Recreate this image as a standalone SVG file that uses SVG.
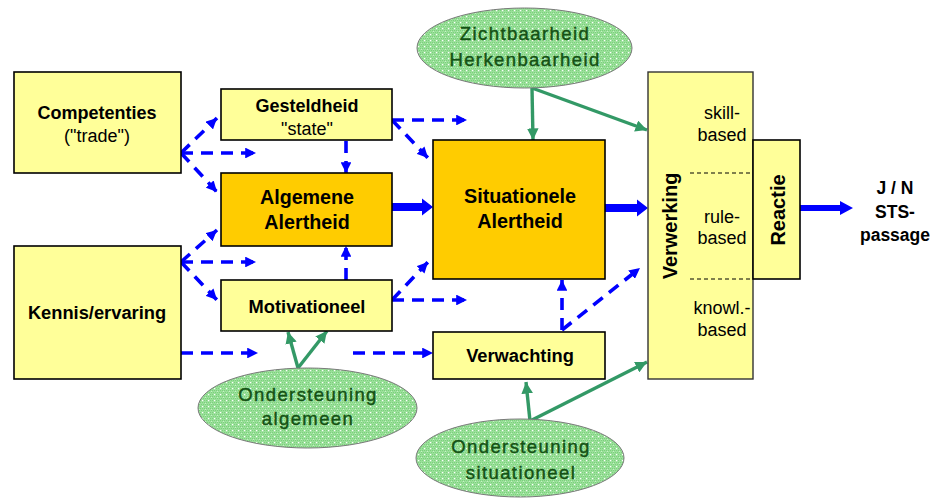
<svg xmlns="http://www.w3.org/2000/svg" width="933" height="499" viewBox="0 0 933 499">
<defs>
<pattern id="dots" width="6" height="6" patternUnits="userSpaceOnUse">
<rect width="6" height="6" fill="#9ae09a"/>
<rect x="0" y="0" width="1" height="1" fill="#7cd07c"/><rect x="2" y="0" width="1" height="1" fill="#7cd07c"/><rect x="4" y="0" width="1" height="1" fill="#7cd07c"/>
<rect x="1" y="2" width="1" height="1" fill="#7cd07c"/><rect x="3" y="2" width="1" height="1" fill="#7cd07c"/><rect x="5" y="2" width="1" height="1" fill="#7cd07c"/>
<rect x="0" y="4" width="1" height="1" fill="#7cd07c"/><rect x="2" y="4" width="1" height="1" fill="#7cd07c"/>
<rect x="4" y="4" width="1.2" height="1.2" fill="#ffffff"/>
<rect x="1" y="1" width="1" height="1" fill="#c8f2c8"/>
</pattern>
<marker id="bh" viewBox="0 0 10 10" refX="10" refY="5" markerWidth="3" markerHeight="3" orient="auto" markerUnits="strokeWidth">
<path d="M0,0 L10,5 L0,10 z" fill="#0000ff"/>
</marker>
<marker id="gh" viewBox="0 0 10 10" refX="10" refY="5" markerWidth="3.4" markerHeight="3.4" orient="auto" markerUnits="strokeWidth">
<path d="M0,0 L10,5 L0,10 z" fill="#339966"/>
</marker>
</defs>
<style>
.box{fill:#ffff99;stroke:#000;stroke-width:1.6}
.obox{fill:#ffcc00;stroke:#000;stroke-width:1.6}
.ell{fill:url(#dots);stroke:#7a7a7a;stroke-width:1}
.t{font-family:"Liberation Sans",Arial,sans-serif;fill:#000;text-anchor:middle}
.b{font-weight:bold}
.et{font-family:"Liberation Sans",Arial,sans-serif;fill:#145214;stroke:#145214;stroke-width:0.45;text-anchor:middle;font-size:18.5px;letter-spacing:1.4px}
.dash{fill:none;stroke:#0000ff;stroke-width:3.6;stroke-dasharray:12 8;marker-end:url(#bh)}
.grn{fill:none;stroke:#339966;stroke-width:3.4;marker-end:url(#gh)}
.thick{fill:#0000ff}
.sep{stroke:#000;stroke-width:1;stroke-dasharray:4 3}
</style>
<rect width="933" height="499" fill="#ffffff"/>

<g id="connectors">
<path class="dash" d="M181,153 L217,118"/>
<path class="dash" d="M181,153 L256,153"/>
<path class="dash" d="M181,153 L217,192"/>
<path class="dash" d="M181,262 L217,230"/>
<path class="dash" d="M181,262 L256,262"/>
<path class="dash" d="M181,262 L217,300"/>
<path class="dash" d="M181,353 L258,353"/>
<path class="dash" d="M353,353 L433,353"/>
<path class="dash" d="M346,141 L346,173"/>
<path class="dash" d="M346,280 L346,246"/>
<path class="dash" d="M392,120 L467,120"/>
<path class="dash" d="M392,120 L428,158"/>
<path class="dash" d="M392,300 L467,300"/>
<path class="dash" d="M392,300 L428,262"/>
<path class="dash" d="M562,330 L562,280"/>
<path class="dash" d="M562,330 L640,268"/>
<polygon class="thick" points="392,203 422,203 422,198.5 433,207 422,215.5 422,211 392,211"/>
<polygon class="thick" points="605,204 637,204 637,199.5 648,208 637,216.5 637,212 605,212"/>
<polygon class="thick" points="800,205 840,205 840,201 853,208 840,215 840,211 800,211"/>
<path class="grn" d="M532,88 L533,140"/>
<path class="grn" d="M532,88 L647,130"/>
<path class="grn" d="M298,368 L288,332"/>
<path class="grn" d="M298,368 L327,331"/>
<path class="grn" d="M530,421 L526,382"/>
<path class="grn" d="M530,421 L647,362"/>
</g>

<g id="competenties">
<rect class="box" x="14" y="72" width="167" height="101"/>
<text class="t b" x="97" y="119" font-size="18">Competenties</text>
<text class="t" x="97" y="142" font-size="18">("trade")</text>
</g>

<g id="kennis">
<rect class="box" x="14" y="246" width="167" height="133"/>
<text class="t b" x="97" y="319" font-size="18.3">Kennis/ervaring</text>
</g>

<g id="gesteldheid">
<rect class="box" x="221" y="89" width="171" height="51"/>
<text class="t b" x="307" y="112" font-size="18">Gesteldheid</text>
<text class="t" x="307" y="135" font-size="18">"state"</text>
</g>

<g id="algemene">
<rect class="obox" x="221" y="173" width="171" height="73"/>
<text class="t b" x="307" y="204" font-size="19.7">Algemene</text>
<text class="t b" x="307" y="229" font-size="19.7">Alertheid</text>
</g>

<g id="motivationeel">
<rect class="box" x="221" y="280" width="171" height="51"/>
<text class="t b" x="307" y="313" font-size="18.3">Motivationeel</text>
</g>

<g id="situationele">
<rect class="obox" x="433" y="140" width="172" height="139"/>
<text class="t b" x="520" y="203" font-size="19.8">Situationele</text>
<text class="t b" x="520" y="228" font-size="19.8">Alertheid</text>
</g>

<g id="verwachting">
<rect class="box" x="433" y="332" width="172" height="47"/>
<text class="t b" x="520" y="362" font-size="18.3">Verwachting</text>
</g>

<g id="verwerking">
<rect class="box" x="648" y="72" width="105" height="307" style="stroke:#333;stroke-width:1.4"/>
<line class="sep" x1="690" y1="173" x2="753" y2="173"/>
<line class="sep" x1="690" y1="279" x2="753" y2="279"/>
<text class="t b" transform="translate(677,226) rotate(-90)" font-size="20">Verwerking</text>
<text class="t" x="722" y="119" font-size="18">skill-</text>
<text class="t" x="722" y="141" font-size="18">based</text>
<text class="t" x="722" y="223" font-size="18">rule-</text>
<text class="t" x="722" y="244" font-size="18">based</text>
<text class="t" x="722" y="314" font-size="18">knowl.-</text>
<text class="t" x="722" y="336" font-size="18">based</text>
</g>

<g id="reactie">
<rect class="box" x="753" y="140" width="47" height="139"/>
<text class="t b" transform="translate(785,210) rotate(-90)" font-size="20">Reactie</text>
</g>

<g id="uitkomst">
<text class="t b" x="895" y="194" font-size="17.5">J / N</text>
<text class="t b" x="895" y="218" font-size="17.5">STS-</text>
<text class="t b" x="895" y="241" font-size="17.5">passage</text>
</g>

<g id="zichtbaarheid">
<ellipse class="ell" cx="524.5" cy="48" rx="107.5" ry="40"/>
<text class="et" x="525" y="40">Zichtbaarheid</text>
<text class="et" x="525" y="66">Herkenbaarheid</text>
</g>

<g id="ondersteuning-algemeen">
<ellipse class="ell" cx="307.5" cy="408" rx="109.5" ry="40"/>
<text class="et" x="308" y="401">Ondersteuning</text>
<text class="et" x="308" y="425">algemeen</text>
</g>

<g id="ondersteuning-situationeel">
<ellipse class="ell" cx="520" cy="458" rx="104" ry="39"/>
<text class="et" x="521" y="453">Ondersteuning</text>
<text class="et" x="521" y="479">situationeel</text>
</g>
</svg>
